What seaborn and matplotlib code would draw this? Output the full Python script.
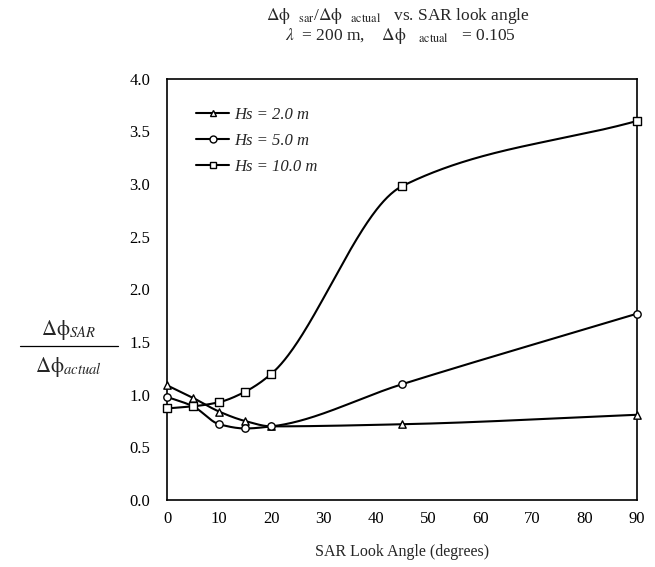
import numpy as np
import pandas as pd
import matplotlib
matplotlib.use("Agg")
import matplotlib.pyplot as plt
from matplotlib.lines import Line2D
import seaborn as sns

# Look angles (degrees) at which the ratio was computed
look_angle = [0, 5, 10, 15, 20, 45, 90]

# dphi_SAR / dphi_actual for each significant wave height
hs_2 = [1.09, 0.97, 0.84, 0.75, 0.70, 0.72, 0.81]
hs_5 = [0.98, 0.89, 0.72, 0.68, 0.70, 1.10, 1.77]
hs_10 = [0.87, 0.89, 0.93, 1.03, 1.20, 2.98, 3.60]

series_labels = ["Hs = 2.0 m", "Hs = 5.0 m", "Hs = 10.0 m"]
series_markers = ["^", "o", "s"]

x_ticks = [0, 10, 20, 30, 40, 50, 60, 70, 80, 90]
y_ticks = [0.0, 0.5, 1.0, 1.5, 2.0, 2.5, 3.0, 3.5, 4.0]


def pchip(x, y, xs):
    """Shape-preserving cubic Hermite curve through the data points."""
    x = np.asarray(x, float)
    y = np.asarray(y, float)
    h = np.diff(x)
    d = np.diff(y) / h
    n = len(x)
    m = np.zeros(n)
    for k in range(1, n - 1):
        if d[k - 1] * d[k] > 0:
            w1 = 2 * h[k] + h[k - 1]
            w2 = h[k] + 2 * h[k - 1]
            m[k] = (w1 + w2) / (w1 / d[k - 1] + w2 / d[k])
    m[0] = d[0]
    m[-1] = d[-1]
    idx = np.clip(np.searchsorted(x, xs) - 1, 0, n - 2)
    t = (xs - x[idx]) / h[idx]
    h00 = 2 * t**3 - 3 * t**2 + 1
    h10 = t**3 - 2 * t**2 + t
    h01 = -2 * t**3 + 3 * t**2
    h11 = t**3 - t**2
    return (h00 * y[idx] + h10 * h[idx] * m[idx]
            + h01 * y[idx + 1] + h11 * h[idx] * m[idx + 1])


sns.set_theme(style="white")
plt.rcParams["font.family"] = ["Liberation Serif", "DejaVu Serif"]
plt.rcParams["mathtext.fontset"] = "stix"

fig = plt.figure(figsize=(6.55, 5.67), dpi=100)
ax = fig.add_axes([0.255, 0.118, 0.7175, 0.743])

xs = np.linspace(0, 90, 400)
curve_rows = []
point_rows = []
for label, vals in zip(series_labels, [hs_2, hs_5, hs_10]):
    ys = pchip(look_angle, vals, xs)
    curve_rows.append(pd.DataFrame({"angle": xs, "ratio": ys, "series": label}))
    point_rows.append(pd.DataFrame({"angle": look_angle, "ratio": vals, "series": label}))
curves = pd.concat(curve_rows, ignore_index=True)
points = pd.concat(point_rows, ignore_index=True)

palette = {lab: "black" for lab in series_labels}
sns.lineplot(data=curves, x="angle", y="ratio", hue="series", palette=palette,
             linewidth=1.5, legend=False, ax=ax, estimator=None, sort=False)
for label, mk in zip(series_labels, series_markers):
    sub = points[points["series"] == label]
    sns.scatterplot(data=sub, x="angle", y="ratio", marker=mk, s=28,
                    facecolor="white", edgecolor="black", linewidth=1.0,
                    legend=False, ax=ax, zorder=5, clip_on=False)

ax.set_xlim(0, 90)
ax.set_ylim(0, 4.0)
ax.set_xticks(x_ticks)
ax.set_yticks(y_ticks)
ax.set_yticklabels([f"{v:.1f}" for v in y_ticks])
ax.set_xticklabels([str(v) for v in x_ticks])
ax.tick_params(direction="in", length=5, width=1, labelsize=12, colors="black")
ax.tick_params(axis="x", pad=8)
ax.tick_params(axis="y", pad=12)
for sp in ax.spines.values():
    sp.set_color("black")
    sp.set_linewidth(1.2)
ax.set_xlabel("SAR Look Angle (degrees)", fontsize=11.5, labelpad=12)
ax.set_ylabel("")

handles = [Line2D([0], [0], color="black", lw=1.5, marker=mk, markersize=5,
                  markerfacecolor="white", markeredgecolor="black")
           for mk in series_markers]
leg = ax.legend(handles, series_labels, loc="upper left",
                bbox_to_anchor=(0.03, 0.968), frameon=False, handlelength=2.0,
                handletextpad=0.3, labelspacing=0.6,
                prop={"family": "Liberation Serif", "style": "italic", "size": 12})

# Title
fig.text(0.608, 0.972,
         r"$\Delta\mathrm{\phi}$  $_{\rm sar}$/$\Delta\mathrm{\phi}$  $_{\rm actual}$   vs. SAR look angle",
         ha="center", va="center", fontsize=12.5)
fig.text(0.612, 0.937,
         r"$\lambda$  = 200 m,    $\Delta\mathrm{\phi}$   $_{\rm actual}$   = 0.105",
         ha="center", va="center", fontsize=12.5)

# Fraction-style y label
fig.text(0.105, 0.418, r"$\Delta\mathrm{\phi}_{SAR}$", ha="center", va="center", fontsize=15)
fig.add_artist(Line2D([0.03, 0.18], [0.389, 0.389], color="black", lw=0.9,
                      transform=fig.transFigure))
fig.text(0.105, 0.353, r"$\Delta\mathrm{\phi}_{actual}$", ha="center", va="center", fontsize=15)

fig.savefig("out.png", dpi=100, facecolor="white")
